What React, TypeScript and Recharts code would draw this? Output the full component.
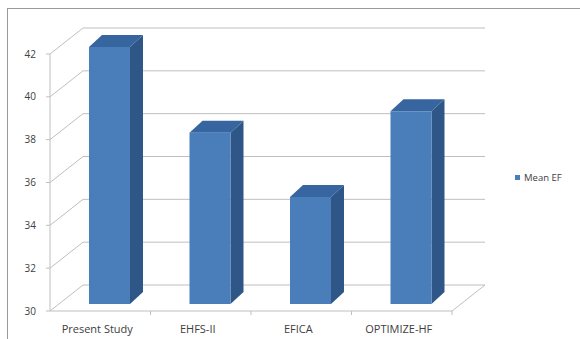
import React from 'react';
import { BarChart, Bar, XAxis, YAxis, CartesianGrid, Legend } from 'recharts';

const categories = ['Present Study', 'EHFS-II', 'EFICA', 'OPTIMIZE-HF'];
const meanEF = [42, 38, 35, 39];
const yTicks = [30, 32, 34, 36, 38, 40, 42];
const seriesName = 'Mean EF';

const data = categories.map((c, i) => ({ name: c, value: meanEF[i] }));

const WALL_DX = 33;
const WALL_DY = -26;
const BAR_SHIFT_X = 9;
const BAR_SHIFT_Y = -7;
const BAR_DX = 13;
const BAR_DY = -12;
const GRID = '#BFBFBF';
const FRONT = '#4A7EBB';
const SIDE = '#2E5687';
const TOP = '#3765A0';
const FONT = '"Open Sans", "Liberation Sans", sans-serif';

const Bar3D = (props: any) => {
  const { x, y, width, height } = props;
  const fx = x + BAR_SHIFT_X;
  const fy = y + BAR_SHIFT_Y;
  const fb = fy + height;
  const r = fx + width;
  return (
    <g>
      <polygon
        points={`${r},${fy} ${r + BAR_DX},${fy + BAR_DY} ${r + BAR_DX},${fb + BAR_DY} ${r},${fb}`}
        fill={SIDE}
      />
      <polygon
        points={`${fx},${fy} ${fx + BAR_DX},${fy + BAR_DY} ${r + BAR_DX},${fy + BAR_DY} ${r},${fy}`}
        fill={TOP}
      />
      <rect x={fx} y={fy} width={width} height={height} fill={FRONT} />
    </g>
  );
};

const GridLine = (props: any) => {
  const { x1, y1, x2, y2, index } = props;
  const isBottom = Math.abs(y1 - 311) < 2;
  return (
    <g key={`g-${index}-${y1}`}>
      <line x1={x1 + WALL_DX} y1={y1 + WALL_DY} x2={x2 + WALL_DX} y2={y2 + WALL_DY} stroke={GRID} strokeWidth={1} />
      <line x1={x1} y1={y1} x2={x1 + WALL_DX} y2={y1 + WALL_DY} stroke={GRID} strokeWidth={1} />
      {isBottom && (
        <line x1={x2} y1={y2} x2={x2 + WALL_DX} y2={y2 + WALL_DY} stroke={GRID} strokeWidth={1} />
      )}
    </g>
  );
};

const XTick = (props: any) => {
  const { x, y, payload } = props;
  const half = 402 / categories.length / 2;
  return (
    <g>
      <line x1={x + half} y1={311} x2={x + half} y2={315} stroke={GRID} />
      <text x={x - 3} y={y + 14} textAnchor="middle" fontSize={11} fill="#404040" fontFamily={FONT}>
        {payload.value}
      </text>
    </g>
  );
};

const LegendContent = () => (
  <svg width={70} height={14}>
    <rect x={3} y={4} width={5} height={5} fill={FRONT} />
    <text x={12} y={10} fontSize={9.5} fill="#404040" fontFamily={FONT}>
      {seriesName}
    </text>
  </svg>
);

export default function App() {
  return (
    <div style={{ position: 'absolute', left: 0, top: 0, width: 580, height: 339, background: '#fff', overflow: 'hidden' }}>
      <div
        style={{
          position: 'absolute',
          left: 7,
          top: 8,
          width: 600,
          height: 400,
          borderTop: '1px solid #9A9A9A',
          borderLeft: '1px solid #9A9A9A',
        }}
      />
      <div style={{ position: 'absolute', left: 0, top: 0 }}>
        <BarChart
          width={580}
          height={339}
          data={data}
          margin={{ top: 54, right: 58, left: 20, bottom: 0 }}
          barSize={41}
        >
          <CartesianGrid vertical={false} horizontal={GridLine as any} horizontalValues={yTicks} />
          <XAxis
            dataKey="name"
            height={28}
            axisLine={{ stroke: GRID }}
            tickLine={false}
            tick={XTick as any}
            interval={0}
          />
          <YAxis
            width={30}
            domain={[30, 42]}
            ticks={yTicks}
            interval={0}
            axisLine={{ stroke: GRID }}
            tickLine={{ stroke: GRID }}
            tickSize={4}
            tickMargin={10}
            tick={{ fontSize: 10, fill: '#404040', fontFamily: FONT }}
          />
          <Legend
            layout="horizontal"
            verticalAlign="middle"
            align="right"
            content={LegendContent as any}
            wrapperStyle={{ position: 'absolute', left: 512, top: 171, width: 70 }}
          />
          <Bar dataKey="value" name={seriesName} shape={Bar3D as any} isAnimationActive={false} />
        </BarChart>
      </div>
    </div>
  );
}
